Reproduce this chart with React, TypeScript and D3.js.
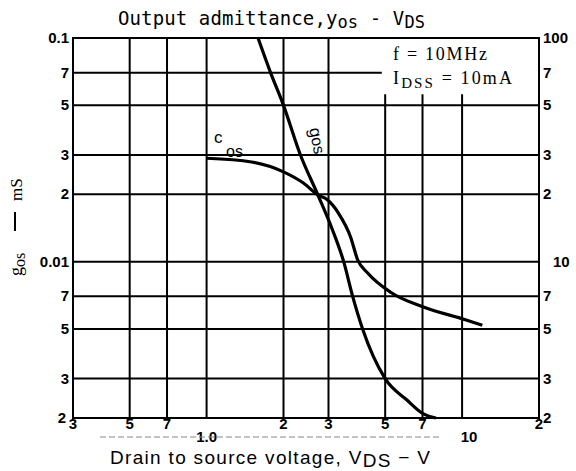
import React from "react";
import * as d3 from "d3";

// ---- data ----
const xTicks = [0.3, 0.5, 0.7, 1, 2, 3, 5, 7, 10, 20];
const xTickLabels = ["3", "5", "7", "1.0", "2", "3", "5", "7", "10", "2"];
const yLeftTicks = [0.1, 0.07, 0.05, 0.03, 0.02, 0.01, 0.007, 0.005, 0.003, 0.002];
const yLeftLabels = ["0.1", "7", "5", "3", "2", "0.01", "7", "5", "3", "2"];
const yRightTicks = [100, 70, 50, 30, 20, 10, 7, 5, 3, 2];
const yRightLabels = ["100", "7", "5", "3", "2", "10", "7", "5", "3", "2"];

// g_os in mS (left axis)
const gosV = [1.59, 1.78, 2.0, 2.33, 2.72, 3.1, 3.44, 3.73, 4.08, 5.0, 6.1, 7.0, 7.9];
const gosVal = [0.1, 0.07, 0.05, 0.03, 0.02, 0.014, 0.01, 0.007, 0.005, 0.003, 0.0024, 0.0021, 0.002];

// c_os (right axis)
const cosV = [1.0, 1.5, 2.0, 2.4, 2.72, 2.97, 3.28, 3.66, 3.9, 4.27, 5.25, 7.06, 10.3, 12.0];
const cosVal = [29, 27.9, 25.2, 22.4, 19.9, 18.9, 16.5, 12.9, 10.2, 8.9, 7.3, 6.27, 5.5, 5.2];

// region of the grid left blank for the condition note (V, mS)
const noteFromV = 4.85;
const noteBelow = 0.056;

const W = 576;
const H = 471;
const L = 73, R = 539, T = 38, B = 418;

export default function App() {
  const x = d3.scaleLog().domain([0.3, 20]).range([L, R]);
  const y = d3.scaleLog().domain([0.002, 0.1]).range([B, T]);
  const yR = d3.scaleLog().domain([2, 100]).range([B, T]);

  const gosPts: [number, number][] = gosV.map((v, i) => [x(v), y(gosVal[i])]);
  const cosPts: [number, number][] = cosV.map((v, i) => [x(v), yR(cosVal[i])]);
  const line = d3.line().curve(d3.curveMonotoneX);

  const lab = { fontFamily: "Liberation Sans, Arial, sans-serif", fontWeight: 700, fontSize: 15 } as const;

  return (
    <svg width={W} height={H} style={{ position: "absolute", left: 0, top: 0, background: "#fff" }}>
      <rect x={0} y={0} width={W} height={H} fill="#fff" />
      {/* grid */}
      {xTicks.slice(1, -1).map((t) => (
        <line
          key={"vx" + t}
          x1={x(t)}
          x2={x(t)}
          y1={t >= noteFromV ? y(noteBelow) : T}
          y2={B}
          stroke="#000"
          strokeWidth={2}
        />
      ))}
      {yLeftTicks.slice(1, -1).map((t) => (
        <line
          key={"hy" + t}
          x1={L}
          x2={t > noteBelow ? x(noteFromV) : R}
          y1={y(t)}
          y2={y(t)}
          stroke="#000"
          strokeWidth={2}
        />
      ))}
      <rect x={L} y={T} width={R - L} height={B - T} fill="none" stroke="#000" strokeWidth={2} />

      {/* curves */}
      <path d={line(gosPts) || ""} fill="none" stroke="#000" strokeWidth={3.2} />
      <path d={line(cosPts) || ""} fill="none" stroke="#000" strokeWidth={3.2} />

      {/* left ticks */}
      {yLeftTicks.map((t, i) => (
        <text key={"yl" + i} x={i === 9 ? 66 : 69} y={y(t) + 5} textAnchor="end" {...lab}>
          {yLeftLabels[i]}
        </text>
      ))}
      {/* right ticks */}
      {yRightTicks.map((t, i) => (
        <text key={"yr" + i} x={yRightLabels[i] === "10" ? 553 : 543} y={yR(t) + 5} textAnchor="start" {...lab}>
          {yRightLabels[i]}
        </text>
      ))}
      {/* x ticks */}
      {xTicks.map((t, i) => (
        <text
          key={"xt" + i}
          x={x(t) + (xTickLabels[i] === "10" ? 7 : 0)}
          y={xTickLabels[i].length > 1 ? 442 : 429}
          textAnchor="middle"
          {...lab}
        >
          {xTickLabels[i]}
        </text>
      ))}

      {/* title */}
      <text x={118} y={25} fontFamily="DejaVu Sans Mono, monospace" fontSize={19} textLength={307}>
        Output admittance,y<tspan dy={3} fontSize={17}>os</tspan>
        <tspan dy={-3}> - V</tspan>
        <tspan dy={3} fontSize={17}>DS</tspan>
      </text>

      {/* annotations */}
      <text x={393} y={60} fontFamily="Liberation Serif, serif" fontSize={18} textLength={94}>
        f = 10MHz
      </text>
      <text x={393} y={84} fontFamily="Liberation Serif, serif" fontSize={18} textLength={119}>
        I<tspan dy={4} fontSize={15}>DSS</tspan>
        <tspan dy={-4}> = 10mA</tspan>
      </text>

      {/* curve labels */}
      <text x={214} y={143} fontFamily="Liberation Sans, Arial, sans-serif" fontSize={17}>
        c
      </text>
      <text x={226} y={157} fontFamily="Liberation Sans, Arial, sans-serif" fontSize={16}>
        os
      </text>
      <text transform="translate(309,129) rotate(78)" fontFamily="Liberation Sans, Arial, sans-serif" fontSize={17}>
        g<tspan fontSize={16}>os</tspan>
      </text>

      {/* y label */}
      <text transform="translate(22,276) rotate(-90)" fontFamily="Liberation Serif, serif" fontSize={18}>
        g<tspan dy={3} fontSize={16}>os</tspan>
      </text>
      <line x1={15} x2={15} y1={212} y2={231} stroke="#000" strokeWidth={2} />
      <text transform="translate(22,201) rotate(-90)" fontFamily="Liberation Serif, serif" fontSize={17}>
        mS
      </text>

      {/* x label */}
      <line x1={100} x2={440} y1={437} y2={437} stroke="#888" strokeWidth={1} strokeDasharray="6 3" />
      <text x={110} y={464} fontFamily="Liberation Sans, Arial, sans-serif" fontSize={19} textLength={320}>
        Drain to source voltage, V<tspan dy={3}>DS</tspan>
        <tspan dy={-3}> − V</tspan>
      </text>
    </svg>
  );
}
